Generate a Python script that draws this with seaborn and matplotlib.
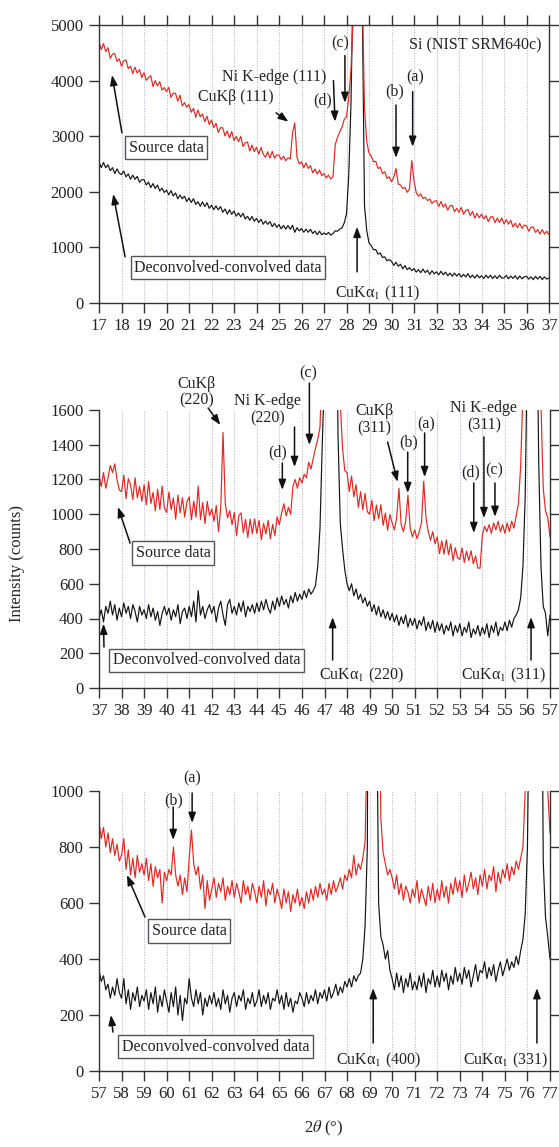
import numpy as np
import pandas as pd
import matplotlib
matplotlib.use("Agg")
import matplotlib.pyplot as plt
import seaborn as sns

# step scan, 0.1 deg per point; counts
scan_step = 0.1
panel_starts = [17, 37, 57]
panel_ymax = [5000, 1600, 1000]
panel_ystep = [1000, 200, 200]

source_1 = [
    4690, 4558, 4666, 4524, 4592, 4400, 4478, 4486, 4344, 4392,
    4260, 4355, 4370, 4215, 4260, 4125, 4240, 4135, 4200, 4055,
    4140, 4006, 4052, 4088, 3894, 4000, 3906, 3982, 3828, 3874,
    3800, 3878, 3696, 3774, 3772, 3630, 3738, 3546, 3604, 3522,
    3570, 3430, 3500, 3340, 3470, 3350, 3400, 3260, 3360, 3210,
    3290, 3156, 3232, 3068, 3154, 3150, 3006, 3092, 2968, 3084,
    2920, 2996, 2902, 2998, 2814, 2880, 2896, 2732, 2838, 2724,
    2800, 2678, 2796, 2674, 2622, 2720, 2608, 2726, 2604, 2662,
    2660, 2580, 2640, 2560, 2610, 2590, 3050, 3240, 2620, 2500,
    2540, 2430, 2520, 2420, 2470, 2340, 2410, 2320, 2390, 2290,
    2330, 2250, 2300, 2230, 2270, 2850, 2980, 3080, 3160, 3300,
    3350, 3700, 4200, 5200, 40000, 40000, 30000, 5600, 3500, 2900,
    2700, 2640, 2540, 2550, 2420, 2440, 2330, 2360, 2240, 2270,
    2180, 2260, 2420, 2140, 2120, 2060, 2080, 1990, 2050, 2560,
    2200, 1980, 1920, 1960, 1880, 1900, 1840, 1870, 1790, 1830,
    1840, 1738, 1826, 1724, 1782, 1670, 1748, 1756, 1644, 1702,
    1630, 1718, 1596, 1664, 1682, 1570, 1648, 1526, 1614, 1532,
    1600, 1511, 1572, 1463, 1544, 1555, 1446, 1527, 1448, 1529,
    1420, 1499, 1418, 1487, 1366, 1435, 1354, 1433, 1342, 1401,
    1390, 1290, 1360, 1370, 1270, 1320, 1240, 1320, 1240, 1290,
    1230,
]
deconv_1 = [
    2540, 2434, 2528, 2432, 2486, 2380, 2434, 2328, 2412, 2336,
    2310, 2374, 2268, 2322, 2226, 2300, 2224, 2278, 2172, 2216,
    2220, 2122, 2174, 2076, 2148, 2060, 2122, 2014, 2066, 1988,
    2030, 1945, 2020, 1925, 1980, 1875, 1940, 1875, 1920, 1825,
    1890, 1808, 1876, 1774, 1822, 1740, 1818, 1736, 1804, 1702,
    1760, 1678, 1747, 1675, 1734, 1632, 1691, 1599, 1678, 1596,
    1655, 1562, 1620, 1548, 1615, 1512, 1560, 1488, 1555, 1472,
    1520, 1449, 1508, 1417, 1476, 1415, 1464, 1373, 1432, 1361,
    1410, 1333, 1396, 1329, 1392, 1325, 1398, 1271, 1354, 1297,
    1340, 1274, 1328, 1272, 1326, 1250, 1294, 1228, 1292, 1226,
    1260, 1230, 1270, 1220, 1250, 1300, 1290, 1330, 1350, 1440,
    1600, 2300, 3600, 6000, 40000, 40000, 30000, 5400, 1750, 1300,
    1080, 1030, 960, 960, 880, 900, 820, 830, 760, 780,
    750, 677, 734, 661, 698, 615, 672, 599, 636, 583,
    620, 555, 600, 545, 610, 545, 590, 515, 580, 525,
    560, 506, 572, 508, 554, 490, 536, 482, 538, 484,
    530, 467, 514, 471, 528, 455, 502, 449, 506, 453,
    490, 440, 500, 450, 500, 440, 490, 440, 500, 450,
    450, 498, 436, 484, 442, 490, 428, 486, 434, 472,
    480, 430, 470, 420, 480, 430, 480, 420, 470, 430,
    450,
]
source_2 = [
    1220, 1160, 1240, 1150, 1210, 1280, 1240, 1290, 1200, 1140,
    1130, 1225, 1090, 1205, 1170, 1085, 1210, 1095, 1160, 1075,
    1170, 1054, 1188, 1062, 1126, 1020, 1144, 1028, 1162, 1036,
    1010, 1128, 1026, 1094, 972, 1110, 1008, 1096, 984, 1072,
    1100, 968, 1076, 984, 1162, 970, 1068, 946, 1074, 992,
    1030, 960, 1050, 900, 1040, 1470, 1060, 980, 1020, 940,
    1010, 876, 992, 1008, 894, 970, 866, 972, 888, 974,
    890, 965, 852, 948, 886, 965, 858, 942, 878, 985,
    940, 1010, 1060, 990, 1040, 1000, 1160, 1200, 1150, 1210,
    1180, 1230, 1210, 1300, 1260, 1320, 1380, 1430, 1500, 1900,
    4000, 20000, 30000, 40000, 30000, 12000, 3000, 1640, 1380, 1250,
    1240, 1130, 1220, 1100, 1170, 1040, 1130, 1025, 1120, 1015,
    1000, 1081, 962, 1053, 974, 1055, 936, 1007, 908, 999,
    950, 910, 980, 1150, 940, 900, 960, 1110, 920, 870,
    910, 860, 900, 950, 1190, 980, 900, 850, 900, 830,
    870, 773, 847, 770, 853, 767, 830, 733, 807, 750,
    740, 806, 722, 788, 734, 790, 715, 760, 690, 690,
    880, 930, 900, 940, 890, 950, 910, 960, 900, 940,
    890, 950, 900, 960, 920, 990, 1060, 1280, 1700, 8000,
    30000, 40000, 30000, 12000, 5000, 2200, 1620, 1150, 1020, 980,
    870,
]
deconv_2 = [
    400, 450, 380, 470, 430, 500, 420, 480, 390, 460,
    410, 490, 430, 470, 400, 480, 440, 380, 470, 420,
    450, 400, 480, 410, 460, 390, 440, 360, 430, 470,
    420, 460, 390, 450, 410, 480, 370, 440, 460, 400,
    470, 410, 500, 380, 560, 420, 470, 400, 450, 480,
    430, 470, 380, 460, 500, 420, 360, 480, 510, 430,
    470, 420, 490, 440, 500, 410, 470, 440, 480, 430,
    490, 440, 500, 450, 510, 460, 430, 500, 450, 520,
    470, 530, 480, 510, 460, 530, 490, 550, 500, 540,
    510, 560, 520, 570, 540, 560, 590, 700, 920, 1400,
    1800, 8000, 30000, 40000, 20000, 2600, 1450, 950, 800, 680,
    600, 560, 600, 530, 570, 510, 540, 490, 520, 470,
    500, 440, 480, 420, 470, 410, 450, 400, 440, 390,
    430, 380, 420, 360, 410, 370, 420, 350, 400, 360,
    400, 340, 390, 360, 410, 330, 380, 340, 390, 320,
    380, 330, 370, 310, 360, 330, 380, 300, 360, 320,
    370, 300, 350, 320, 380, 290, 340, 310, 360, 300,
    350, 310, 370, 290, 360, 320, 380, 300, 350, 330,
    380, 330, 390, 350, 400, 420, 450, 520, 700, 1100,
    2000, 40000, 30000, 12000, 2400, 1300, 700, 470, 430, 300,
    420,
]
source_3 = [
    890, 830, 870, 800, 850, 780, 830, 770, 810, 750,
    770, 830, 720, 790, 700, 760, 690, 770, 710, 740,
    700, 760, 680, 740, 660, 730, 690, 720, 600, 710,
    680, 720, 700, 800, 700, 660, 700, 630, 690, 640,
    760, 860, 740, 700, 730, 650, 700, 580, 680, 610,
    650, 690, 620, 670, 640, 690, 610, 660, 630, 680,
    620, 670, 640, 600, 680, 630, 660, 610, 670, 640,
    600, 660, 620, 680, 590, 650, 630, 670, 600, 650,
    620, 580, 650, 600, 640, 570, 630, 600, 650, 590,
    620, 580, 640, 600, 650, 610, 660, 620, 670, 630,
    650, 610, 670, 630, 680, 640, 660, 690, 650, 700,
    680, 720, 690, 770, 700, 740, 720, 760, 820, 1200,
    8000, 40000, 30000, 8000, 1500, 900, 780, 740, 700, 720,
    690, 650, 700, 630, 670, 610, 660, 640, 600, 650,
    620, 680, 600, 650, 620, 590, 660, 610, 670, 600,
    650, 610, 680, 620, 660, 600, 670, 630, 690, 640,
    680, 620, 700, 640, 670, 710, 650, 690, 630, 700,
    660, 720, 650, 700, 680, 730, 640, 710, 670, 720,
    690, 740, 680, 730, 700, 750, 720, 760, 800, 1000,
    3000, 20000, 40000, 40000, 30000, 20000, 8000, 3500, 1700, 1000,
    850,
]
deconv_3 = [
    360, 320, 340, 290, 310, 260, 300, 270, 330, 280,
    260, 330, 240, 290, 220, 280, 250, 300, 230, 270,
    250, 290, 220, 280, 240, 300, 210, 270, 230, 290,
    250, 210, 280, 230, 300, 200, 270, 180, 260, 240,
    330, 260, 230, 290, 240, 280, 200, 260, 230, 270,
    240, 280, 230, 260, 220, 290, 240, 270, 210, 260,
    280, 230, 270, 250, 290, 220, 260, 240, 280, 230,
    250, 290, 230, 270, 240, 280, 220, 260, 250, 290,
    240, 270, 220, 280, 230, 260, 210, 250, 240, 280,
    260, 230, 280, 240, 270, 250, 290, 240, 280, 260,
    290, 250, 300, 260, 280, 310, 270, 300, 280, 320,
    300, 330, 300, 340, 320, 340, 350, 400, 520, 800,
    3000, 40000, 20000, 1500, 600, 480, 450, 400, 430, 360,
    330, 290, 350, 300, 340, 280, 330, 300, 350, 290,
    320, 290, 340, 300, 350, 280, 330, 310, 360, 300,
    340, 300, 360, 320, 350, 290, 340, 310, 370, 320,
    350, 310, 370, 330, 360, 300, 340, 380, 320, 360,
    350, 390, 330, 370, 340, 380, 320, 360, 390, 340,
    370, 400, 360, 390, 370, 410, 380, 430, 470, 560,
    800, 1500, 40000, 40000, 40000, 20000, 2000, 750, 550, 480,
    400,
]

sources = [source_1, source_2, source_3]
deconvs = [deconv_1, deconv_2, deconv_3]

sns.set_style("ticks")
plt.rcParams["font.family"] = ["Liberation Serif", "DejaVu Serif"]
plt.rcParams["mathtext.fontset"] = "stix"

RED = "#e3261f"
BLACK = "#141414"
FS = 11.5

fig = plt.figure(figsize=(5.59, 11.47), dpi=100)
rects = [
    [99 / 559, 1 - 303 / 1147, 450 / 559, 278 / 1147],
    [99 / 559, 1 - 688 / 1147, 451 / 559, 278 / 1147],
    [99 / 559, 1 - 1071 / 1147, 451 / 559, 280 / 1147],
]
axes = []
for i, rect in enumerate(rects):
    ax = fig.add_axes(rect)
    x0 = panel_starts[i]
    two_theta = np.round(x0 + scan_step * np.arange(len(sources[i])), 1)
    df = pd.DataFrame({"two_theta": two_theta,
                       "source": sources[i], "deconv": deconvs[i]})
    for v in range(x0 + 1, x0 + 20):
        ax.axvline(v, color="#b2b6ca", lw=0.7, ls=(0, (1.2, 1.5)), zorder=0)
    sns.lineplot(data=df, x="two_theta", y="deconv", ax=ax, color=BLACK,
                 lw=0.85, estimator=None, sort=False)
    sns.lineplot(data=df, x="two_theta", y="source", ax=ax, color=RED,
                 lw=0.85, estimator=None, sort=False)
    ax.set_xlim(x0, x0 + 20)
    ax.set_ylim(0, panel_ymax[i])
    ax.set_xticks(range(x0, x0 + 21))
    ax.set_yticks(range(0, panel_ymax[i] + 1, panel_ystep[i]))
    ax.set_xlabel("")
    ax.set_ylabel("")
    ax.tick_params(axis="both", direction="out", length=7, width=1,
                   colors="#333333", labelcolor="#222222", labelsize=12,
                   right=True, labelright=False, top=(i == 0), pad=4)
    for side in ["left", "right", "bottom", "top"]:
        ax.spines[side].set_color("#333333")
        ax.spines[side].set_linewidth(1.0)
    if i > 0:
        ax.spines["top"].set_visible(False)
    axes.append(ax)


def arrow(ax, tail, head):
    ax.annotate("", xy=head, xytext=tail,
                arrowprops=dict(arrowstyle="-|>,head_length=0.6,head_width=0.22",
                                color="#111111", lw=1.1, shrinkA=0, shrinkB=0))


def label(ax, x, y, s, **kw):
    ax.text(x, y, s, ha="center", va="center", fontsize=FS,
            color="#222222", linespacing=1.1, **kw)


def boxed(ax, x, y, s):
    ax.text(x, y, s, ha="center", va="center", fontsize=FS, color="#222222",
            bbox=dict(boxstyle="square,pad=0.22", fc="white", ec="#555555", lw=1.0))


# panel 1
ax = axes[0]
label(ax, 33.7, 4640, "Si (NIST SRM640c)")
label(ax, 24.78, 4065, "Ni K-edge (111)")
label(ax, 26.96, 3650, "(d)")
label(ax, 27.71, 4670, "(c)")
label(ax, 23.08, 3700, "CuKβ (111)")
label(ax, 30.16, 3800, "(b)")
label(ax, 31.04, 4050, "(a)")
label(ax, 29.4, 180, "CuKα$_1$ (111)")
arrow(ax, (27.42, 4000), (27.49, 3260))
arrow(ax, (27.93, 4450), (27.93, 3600))
arrow(ax, (24.87, 3420), (25.42, 3260))
arrow(ax, (30.2, 3560), (30.2, 2610))
arrow(ax, (30.94, 3800), (30.94, 2810))
arrow(ax, (18.02, 3060), (17.58, 4100))
arrow(ax, (18.16, 830), (17.63, 1960))
arrow(ax, (28.47, 560), (28.47, 1370))
boxed(ax, 19.98, 2790, "Source data")
boxed(ax, 22.73, 630, "Deconvolved-convolved data")

# panel 2
ax = axes[1]
label(ax, 41.31, 1703, "CuKβ\n(220)")
label(ax, 44.47, 1600, "Ni K-edge\n(220)")
label(ax, 44.9, 1358, "(d)")
label(ax, 46.29, 1813, "(c)")
label(ax, 49.22, 1542, "CuKβ\n(311)")
label(ax, 50.73, 1416, "(b)")
label(ax, 51.49, 1519, "(a)")
label(ax, 54.07, 1560, "Ni K-edge\n(311)")
label(ax, 53.49, 1243, "(d)")
label(ax, 54.51, 1255, "(c)")
label(ax, 48.64, 75, "CuKα$_1$ (220)")
label(ax, 54.94, 75, "CuKα$_1$ (311)")
arrow(ax, (41.84, 1611), (42.38, 1514))
arrow(ax, (45.67, 1502), (45.67, 1272))
arrow(ax, (45.13, 1295), (45.13, 1140))
arrow(ax, (46.33, 1755), (46.33, 1399))
arrow(ax, (49.8, 1416), (50.24, 1186))
arrow(ax, (50.69, 1358), (50.69, 1122))
arrow(ax, (51.44, 1468), (51.44, 1214))
arrow(ax, (54.07, 1445), (54.07, 978))
arrow(ax, (53.62, 1180), (53.62, 892))
arrow(ax, (54.56, 1180), (54.56, 985))
arrow(ax, (38.38, 834), (37.84, 1042))
arrow(ax, (37.22, 236), (37.2, 370))
arrow(ax, (47.36, 161), (47.36, 408))
arrow(ax, (56.16, 161), (56.16, 408))
boxed(ax, 40.29, 777, "Source data")
boxed(ax, 41.76, 161, "Deconvolved-convolved data")

# panel 3
ax = axes[2]
label(ax, 60.29, 968, "(b)")
label(ax, 61.13, 1046, "(a)")
label(ax, 69.4, 39, "CuKα$_1$ (400)")
label(ax, 75.04, 39, "CuKα$_1$ (331)")
arrow(ax, (60.29, 943), (60.29, 825))
arrow(ax, (61.13, 993), (61.13, 886))
arrow(ax, (59.04, 550), (58.24, 700))
arrow(ax, (57.62, 139), (57.53, 200))
arrow(ax, (69.16, 100), (69.16, 296))
arrow(ax, (76.42, 100), (76.42, 296))
boxed(ax, 61.0, 500, "Source data")
boxed(ax, 62.16, 86, "Deconvolved-convolved data")

fig.text(17 / 559, 1 - 563 / 1147, "Intensity (counts)", rotation=90,
         ha="center", va="center", fontsize=12, color="#222222")
fig.text(324 / 559, 1 - 1128 / 1147, "2$\\theta$ (°)", ha="center",
         va="center", fontsize=12, color="#222222")

fig.savefig("out.png", dpi=100)
